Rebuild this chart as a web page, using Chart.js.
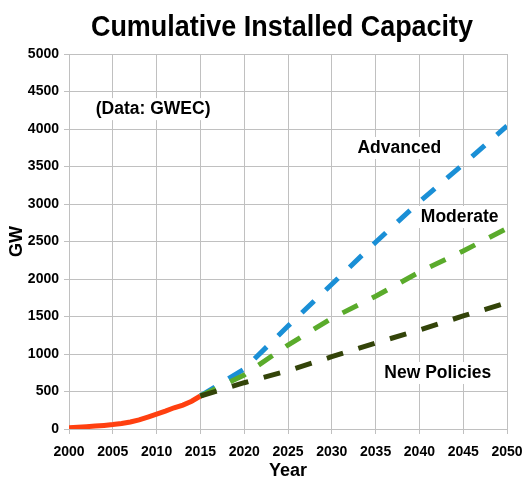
<!DOCTYPE html>
<html>
<head>
<meta charset="utf-8">
<script src="https://cdn.jsdelivr.net/npm/chart.js@4.4.1/dist/chart.umd.min.js"></script>
<style>
  html, body { margin: 0; padding: 0; background: #fff; }
  #wrap { width: 523px; height: 479px; }
</style>
</head>
<body>
<div id="wrap"><canvas id="c"></canvas></div>
<script>
// historic cumulative capacity (GW)
const histYears = [2000, 2001, 2002, 2003, 2004, 2005, 2006, 2007, 2008, 2009, 2010, 2011, 2012, 2013, 2014, 2015];
const histValues = [17, 24, 31, 39, 48, 59, 74, 94, 121, 159, 198, 238, 283, 319, 370, 440];

// scenarios
const scenYears = [2015, 2020, 2025, 2030, 2035, 2040, 2045, 2050];
const advanced = [440, 800, 1373, 1930, 2490, 3030, 3530, 4040];
const moderate = [440, 720, 1120, 1476, 1770, 2093, 2373, 2676];
const newPolicies = [440, 617, 777, 964, 1147, 1320, 1507, 1684];

const yTicks = [0, 500, 1000, 1500, 2000, 2500, 3000, 3500, 4000, 4500, 5000];

// text labels inside the plot [text, x, y]
const notes = [
    ['(Data: GWEC)', 2009.6, 4265],
    ['Advanced', 2037.7, 3747],
    ['Moderate', 2044.6, 2827],
    ['New Policies', 2042.1, 747]
];

const FONT = '"Liberation Sans", Arial, sans-serif';
const pts = (xs, ys) => xs.map((x, i) => ({ x: x, y: ys[i] }));

const textPlugin = {
    id: 'texts',
    afterDatasetsDraw(chart) {
        const { ctx, scales } = chart;
        ctx.save();
        ctx.font = 'bold 17.5px ' + FONT;
        ctx.textAlign = 'center';
        ctx.textBaseline = 'middle';
        notes.forEach(([t, x, y]) => {
            const px = scales.x.getPixelForValue(x);
            const py = scales.y.getPixelForValue(y);
            const w = ctx.measureText(t).width;
            ctx.fillStyle = '#fff';
            ctx.fillRect(px - w / 2 - 3, py - 11, w + 6, 22);
            ctx.fillStyle = '#000';
            ctx.fillText(t, px, py);
        });
        ctx.restore();
    },
    afterDraw(chart) {
        // title, centred over the plot like the original
        const { ctx } = chart;
        ctx.save();
        ctx.fillStyle = '#000';
        ctx.textAlign = 'center';
        ctx.textBaseline = 'alphabetic';
        ctx.translate(282, 36);
        ctx.scale(0.93, 1);
        ctx.font = 'bold 29px ' + FONT;
        ctx.fillText('Cumulative Installed Capacity', 0, 0);
        ctx.restore();
    }
};

const dash = (color, data) => ({
    data: data,
    borderColor: color,
    borderWidth: 5,
    borderDash: [17, 16],
    pointRadius: 0,
    fill: false,
    tension: 0
});

new Chart(document.getElementById('c'), {
    type: 'line',
    data: {
        datasets: [
            dash('#334409', pts(scenYears, newPolicies)),
            dash('#5aab2b', pts(scenYears, moderate)),
            dash('#1a8fd6', pts(scenYears, advanced)),
            {
                data: pts(histYears, histValues),
                borderColor: '#ff4010',
                borderWidth: 5,
                pointRadius: 0,
                fill: false
            }
        ]
    },
    options: {
        responsive: true,
        maintainAspectRatio: false,
        animation: false,
        layout: { padding: { left: 6, right: 16, bottom: 0, top: 54 } },
        plugins: {
            legend: { display: false },
            tooltip: { enabled: false },
            title: { display: false }
        },
        scales: {
            x: {
                type: 'linear',
                min: 2000,
                max: 2050,
                afterFit: s => { s.height = 50; s.paddingLeft = 0; s.paddingRight = 0; },
                ticks: {
                    stepSize: 5,
                    color: '#000',
                    font: { family: FONT, size: 14, weight: 'bold' },
                    maxRotation: 0,
                    padding: 10,
                    callback: v => String(v)
                },
                grid: { color: '#c0c0c0', tickLength: 5 },
                border: { color: '#c0c0c0' },
                title: {
                    display: true,
                    text: 'Year',
                    color: '#000',
                    font: { family: FONT, size: 18, weight: 'bold' },
                    padding: { top: 0, bottom: -3 }
                }
            },
            y: {
                min: 0,
                max: 5000,
                afterFit: s => { s.width = 63; },
                afterBuildTicks: axis => { axis.ticks = yTicks.map(v => ({ value: v })); },
                ticks: {
                    color: '#000',
                    font: { family: FONT, size: 14, weight: 'bold' },
                    padding: 5,
                    callback: v => String(v)
                },
                grid: { color: '#c0c0c0', tickLength: 5 },
                border: { color: '#c0c0c0' },
                title: {
                    display: true,
                    text: 'GW',
                    color: '#000',
                    font: { family: FONT, size: 18, weight: 'bold' },
                    padding: { top: 0, bottom: 2 }
                }
            }
        }
    },
    plugins: [textPlugin]
});
</script>
</body>
</html>
